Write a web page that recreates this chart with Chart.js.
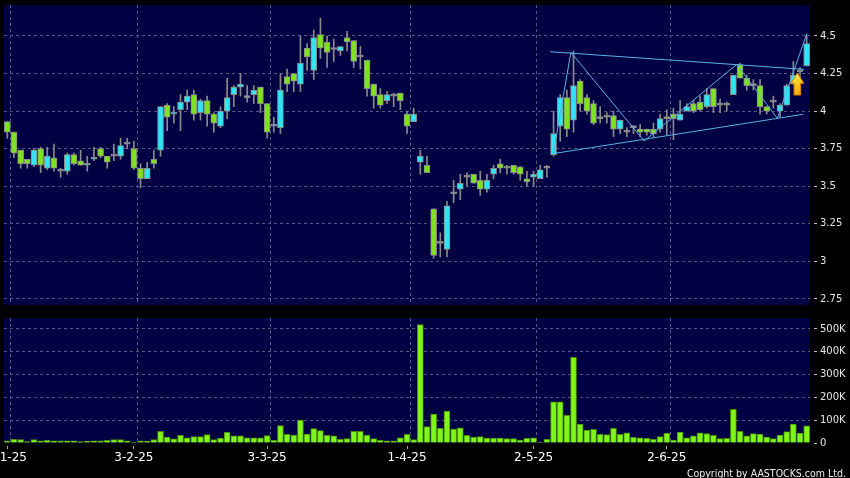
<!DOCTYPE html>
<html>
<head>
<meta charset="utf-8">
<script src="https://cdn.jsdelivr.net/npm/chart.js@4.4.1/dist/chart.umd.min.js"></script>
<style>
  html, body { margin: 0; padding: 0; background: #000; }
  #wrap { position: relative; width: 850px; height: 478px; overflow: hidden; }
  .box { position: absolute; left: 0; width: 850px; }
  #copy { position: absolute; right: 4px; top: 467px; font-family: 'DejaVu Sans Condensed', 'DejaVu Sans', sans-serif; font-size: 10.5px; line-height: 12px; color: #eee; white-space: nowrap; }
</style>
</head>
<body>
<div id="wrap">
  <div class="box" style="top:0;height:312px"><canvas id="price"></canvas></div>
  <div class="box" style="top:312px;height:166px"><canvas id="vol"></canvas></div>
  <div id="copy">Copyright by AASTOCKS.com Ltd.</div>
</div>
<script>
// trading days, d-m-yy
const dates = [
  '2-1-25','3-1-25','6-1-25','7-1-25','8-1-25','9-1-25','10-1-25','13-1-25','14-1-25','15-1-25',
  '16-1-25','17-1-25','20-1-25','21-1-25','22-1-25','23-1-25','24-1-25','27-1-25','28-1-25',
  '3-2-25','4-2-25','5-2-25','6-2-25','7-2-25','10-2-25','11-2-25','12-2-25','13-2-25','14-2-25',
  '17-2-25','18-2-25','19-2-25','20-2-25','21-2-25','24-2-25','25-2-25','26-2-25','27-2-25','28-2-25',
  '3-3-25','4-3-25','5-3-25','6-3-25','7-3-25','10-3-25','11-3-25','12-3-25','13-3-25','14-3-25',
  '17-3-25','18-3-25','19-3-25','20-3-25','21-3-25','24-3-25','25-3-25','26-3-25','27-3-25','28-3-25','31-3-25',
  '1-4-25','2-4-25','3-4-25','7-4-25','8-4-25','9-4-25','10-4-25','11-4-25','14-4-25','15-4-25',
  '16-4-25','17-4-25','22-4-25','23-4-25','24-4-25','25-4-25','28-4-25','29-4-25','30-4-25',
  '2-5-25','6-5-25','7-5-25','8-5-25','9-5-25','12-5-25','13-5-25','14-5-25','15-5-25','16-5-25',
  '19-5-25','20-5-25','21-5-25','22-5-25','23-5-25','26-5-25','27-5-25','28-5-25','29-5-25','30-5-25',
  '2-6-25','3-6-25','4-6-25','5-6-25','6-6-25','9-6-25','10-6-25','11-6-25','12-6-25','13-6-25',
  '16-6-25','17-6-25','18-6-25','19-6-25','20-6-25','23-6-25','24-6-25','25-6-25','26-6-25','27-6-25','30-6-25',
  '2-7-25'
];

const opens = [
  3.93,3.86,3.74,3.68,3.64,3.75,3.62,3.69,3.60,3.60, 3.71,3.67,3.64,3.68,3.75,3.70,3.70,3.70,3.78,3.75,
  3.62,3.55,3.68,3.74,4.04,3.98,4.01,4.06,4.11,3.99, 4.07,3.98,3.90,4.00,4.11,4.16,4.09,4.11,4.16,4.05,
  3.90,3.89,4.23,4.25,4.18,4.42,4.27,4.51,4.46,4.41, 4.40,4.49,4.47,4.36,4.34,4.18,4.11,4.07,4.10,4.12,
  3.98,3.93,3.66,3.64,3.35,3.12,3.08,3.45,3.48,3.56, 3.58,3.54,3.48,3.58,3.65,3.62,3.64,3.63,3.55,3.56,
  3.55,3.62,3.71,3.90,4.09,3.94,4.20,4.09,4.05,3.95, 3.96,3.97,3.88,3.86,3.89,3.88,3.88,3.88,3.88,3.95,
  3.98,3.94,4.00,4.05,4.06,4.03,4.15,4.04,4.04,4.11, 4.31,4.22,4.17,4.17,4.03,4.06,4.00,4.04,4.18,4.26,
  4.30
];
const highs = [
  3.93,3.86,3.74,3.68,3.75,3.76,3.76,3.78,3.62,3.72, 3.72,3.74,3.70,3.76,3.76,3.70,3.78,3.82,3.82,3.80,
  3.65,3.66,3.74,4.03,4.05,4.03,4.11,4.14,4.14,4.08, 4.10,3.99,4.03,4.22,4.17,4.25,4.17,4.17,4.16,4.05,
  3.96,4.25,4.28,4.25,4.50,4.45,4.54,4.62,4.50,4.48, 4.43,4.53,4.47,4.43,4.34,4.18,4.15,4.13,4.12,4.12,
  4.00,4.02,3.74,3.70,3.35,3.19,3.40,3.54,3.58,3.59, 3.58,3.60,3.58,3.64,3.68,3.64,3.64,3.63,3.60,3.60,
  3.64,3.64,4.00,4.11,4.14,4.40,4.21,4.11,4.07,4.03, 3.99,4.00,3.94,3.89,3.90,3.91,3.88,3.92,3.98,4.01,
  4.02,4.07,4.05,4.07,4.10,4.15,4.15,4.08,4.06,4.24, 4.32,4.24,4.21,4.21,4.03,4.10,4.05,4.18,4.33,4.29,
  4.51
];
const lows = [
  3.82,3.69,3.62,3.62,3.63,3.59,3.61,3.60,3.56,3.58, 3.64,3.64,3.60,3.67,3.69,3.62,3.67,3.68,3.75,3.61,
  3.49,3.55,3.62,3.70,3.87,3.92,3.87,4.01,3.94,3.94, 3.90,3.86,3.89,3.95,4.03,4.10,4.06,4.05,3.99,3.82,
  3.86,3.85,4.13,4.13,4.13,4.27,4.21,4.35,4.29,4.33, 4.37,4.40,4.29,4.28,4.10,4.02,4.02,4.05,4.03,4.01,
  3.85,3.93,3.58,3.59,3.02,3.03,3.03,3.39,3.41,3.50, 3.52,3.44,3.46,3.55,3.59,3.58,3.58,3.54,3.50,3.50,
  3.55,3.56,3.70,3.80,3.83,3.86,4.00,3.98,3.91,3.92, 3.92,3.83,3.85,3.83,3.85,3.83,3.84,3.83,3.86,3.84,
  3.81,3.94,4.00,3.99,4.00,4.02,3.99,3.99,4.00,4.11, 4.22,4.14,4.14,3.98,3.98,4.02,3.96,4.04,4.18,4.22,
  4.30
];
const closes = [
  3.86,3.72,3.65,3.65,3.74,3.64,3.70,3.62,3.60,3.71, 3.65,3.64,3.65,3.69,3.70,3.66,3.70,3.77,3.78,3.62,
  3.55,3.62,3.65,4.03,3.96,3.99,4.06,4.10,3.98,4.07, 3.98,3.92,4.00,4.09,4.16,4.18,4.09,4.14,4.05,3.86,
  3.90,4.14,4.18,4.20,4.32,4.36,4.49,4.42,4.39,4.41, 4.43,4.46,4.33,4.36,4.15,4.10,4.04,4.11,4.10,4.07,
  3.90,3.98,3.70,3.59,3.04,3.12,3.37,3.45,3.52,3.56, 3.52,3.48,3.54,3.62,3.62,3.62,3.59,3.58,3.53,3.58,
  3.61,3.62,3.85,4.09,3.88,4.17,4.05,4.00,3.92,3.95, 3.96,3.88,3.94,3.86,3.89,3.86,3.86,3.85,3.95,3.95,
  3.95,3.98,4.03,4.00,4.01,4.11,4.03,4.04,4.04,4.24, 4.22,4.17,4.17,4.03,4.00,4.06,4.04,4.17,4.24,4.26,
  4.45
];
// volume, thousands of shares
const volumes = [
  9,16,15,6,15,9,12,10,9,10, 10,6,7,10,9,12,15,15,10,4,
  9,7,15,51,26,18,34,23,28,28, 37,15,22,47,31,31,23,23,23,32,
  12,76,38,35,101,39,63,54,34,31, 16,19,51,51,35,19,12,10,9,23,
  38,15,519,72,127,64,140,61,66,34, 26,28,22,22,22,19,19,13,20,23,
  4,16,180,180,121,376,83,57,60,38, 37,64,38,45,25,23,20,16,28,44,
  13,48,23,31,45,41,34,19,20,148, 51,31,41,39,26,19,35,50,83,44,
  75
];

const priceTicks = [2.75, 3, 3.25, 3.5, 3.75, 4, 4.25, 4.5];
const priceTickLabels = ['2.75', '3', '3.25', '3.5', '3.75', '4', '4.25', '4.5'];
const volTicks = [0, 100, 200, 300, 400, 500];
const volTickLabels = ['0', '100K', '200K', '300K', '400K', '500K'];
const monthStarts = [0, 19, 39, 60, 79, 99];
const monthGrid = [0.5, 19.5, 39.5, 60.5, 79.5, 99.5];

// drawn trend lines (index, price)
const upperLine = [{x: 81.5, y: 4.395}, {x: 119.6, y: 4.278}];
const lowerLine = [{x: 82.2, y: 3.719}, {x: 119.5, y: 3.979}];
const zigzag = [
  {x: 81.97, y: 3.719}, {x: 84.6, y: 4.391}, {x: 95.6, y: 3.801},
  {x: 109.5, y: 4.311}, {x: 115.6, y: 3.952}, {x: 120.0, y: 4.513}
];
const arrowAt = {x: 118.6, top: 4.252, bottom: 4.107};

const NAVY = '#000042';
const GRID = '#58587f';
const UP = '#2fe4f4';
const DOWN = '#7ee21e';
const FLAT = '#9a9a9a';
const EDGE = '#8a8a8a';
const LINE = '#5ab2e4';

Chart.defaults.font.family = "'DejaVu Sans', sans-serif";
Chart.defaults.color = '#e6e6e6';

const panelBg = {
  id: 'panelBg',
  beforeDraw(chart) {
    const {ctx, chartArea: a} = chart;
    ctx.save();
    ctx.fillStyle = NAVY;
    ctx.fillRect(a.left, a.top, a.right - a.left, a.bottom - a.top);
    ctx.restore();
  }
};

// the yellow break-out arrow
const arrowMark = {
  id: 'arrowMark',
  afterDatasetsDraw(chart) {
    const {ctx, scales: {x, y}} = chart;
    const cx = x.getPixelForValue(arrowAt.x);
    const top = y.getPixelForValue(arrowAt.top);
    const bot = y.getPixelForValue(arrowAt.bottom);
    const neck = top + (bot - top) * 0.46;
    const hw = 6.5, sw = 3.3;
    ctx.save();
    const g = ctx.createLinearGradient(cx - hw, top, cx + hw, bot);
    g.addColorStop(0, '#fff07a');
    g.addColorStop(0.5, '#ffc81a');
    g.addColorStop(1, '#f29a00');
    ctx.beginPath();
    ctx.moveTo(cx, top);
    ctx.lineTo(cx + hw, neck);
    ctx.lineTo(cx + sw, neck);
    ctx.lineTo(cx + sw, bot);
    ctx.lineTo(cx - sw, bot);
    ctx.lineTo(cx - sw, neck);
    ctx.lineTo(cx - hw, neck);
    ctx.closePath();
    ctx.fillStyle = g;
    ctx.fill();
    ctx.strokeStyle = '#d98200';
    ctx.lineWidth = 1;
    ctx.stroke();
    ctx.restore();
  }
};

// no extra room for edge labels, the panels keep fixed edges
const noPad = s => { s.paddingLeft = 0; s.paddingRight = 0; s.paddingTop = 0; s.paddingBottom = 0; };

const gridAxis = (ticks) => ({
  type: 'linear', position: 'bottom', min: -0.5, max: 120.5, offset: false,
  afterBuildTicks: s => { s.ticks = ticks.map(v => ({value: v})); },
  ticks: {display: false},
  grid: {color: GRID, drawTicks: false, offset: false},
  border: {display: false, dash: [3, 3]},
  afterFit: s => { s.height = 0; noPad(s); }
});

const bodyColors = opens.map((o, i) => closes[i] > o ? UP : (closes[i] < o ? DOWN : FLAT));

new Chart(document.getElementById('price'), {
  type: 'bar',
  data: {
    datasets: [
      {type: 'line', data: upperLine, borderColor: LINE, borderWidth: 1, pointRadius: 0, order: 0},
      {type: 'line', data: lowerLine, borderColor: LINE, borderWidth: 1, pointRadius: 0, order: 0},
      {type: 'line', data: zigzag, borderColor: LINE, borderWidth: 1, pointRadius: 0, order: 0},
      {
        data: opens.map((o, i) => ({x: i, y: [o, closes[i]]})),
        backgroundColor: bodyColors, borderColor: EDGE, borderWidth: 1,
        borderSkipped: false, barThickness: 6, minBarLength: 2, grouped: false, order: 1
      },
      {
        data: lows.map((l, i) => ({x: i, y: [l, highs[i]]})),
        backgroundColor: EDGE, borderWidth: 0, barThickness: 1, grouped: false, order: 2
      }
    ]
  },
  options: {
    responsive: true, maintainAspectRatio: false, animation: false, events: [],
    layout: {autoPadding: false, padding: {left: 4, top: 5, right: 0, bottom: 7}},
    plugins: {legend: {display: false}, tooltip: {enabled: false}},
    scales: {
      x: gridAxis(monthGrid),
      y: {
        position: 'right', min: 2.71, max: 4.706,
        afterBuildTicks: s => { s.ticks = priceTicks.map(v => ({value: v})); },
        ticks: {callback: (v, i) => priceTickLabels[i], font: {size: 10}, color: '#e6e6e6', padding: 3},
        grid: {color: GRID, tickColor: '#bdbdbd', tickLength: 7, tickBorderDash: [0, 4, 3, 20]},
        border: {display: false, dash: [3, 3]},
        afterFit: s => { s.width = 40; noPad(s); }
      }
    }
  },
  plugins: [panelBg, arrowMark]
});

new Chart(document.getElementById('vol'), {
  type: 'bar',
  data: {
    datasets: [{
      data: volumes.map((v, i) => ({x: i, y: v})),
      backgroundColor: '#7ff51a', borderColor: '#4a9000', borderWidth: 1,
      barThickness: 6, xAxisID: 'x', yAxisID: 'y'
    }]
  },
  options: {
    responsive: true, maintainAspectRatio: false, animation: false, events: [],
    layout: {autoPadding: false, padding: {left: 4, top: 6, right: 0, bottom: 0}},
    plugins: {legend: {display: false}, tooltip: {enabled: false}},
    scales: {
      xg: gridAxis(monthGrid),
      x: {
        type: 'linear', position: 'bottom', min: -0.5, max: 120.5, offset: false,
        afterBuildTicks: s => { s.ticks = monthStarts.map(v => ({value: v})); },
        ticks: {callback: v => dates[v], font: {size: 12}, color: '#ffffff', padding: 2, maxRotation: 0, autoSkip: false},
        grid: {drawOnChartArea: false, offset: false, tickLength: 6, tickColor: '#aaaaaa', tickBorderDash: [0, 3, 3, 20]},
        border: {display: false},
        afterFit: s => { s.height = 35; noPad(s); }
      },
      y: {
        position: 'right', min: 0, max: 548,
        afterBuildTicks: s => { s.ticks = volTicks.map(v => ({value: v})); },
        ticks: {callback: (v, i) => volTickLabels[i], font: {size: 10}, color: '#e6e6e6', padding: 3},
        grid: {
          color: c => (c.tick && c.tick.value === 0) ? 'rgba(0,0,0,0)' : GRID,
          tickColor: '#bdbdbd', tickLength: 7, tickBorderDash: [0, 4, 3, 20]
        },
        border: {display: false, dash: [3, 3]},
        afterFit: s => { s.width = 40; noPad(s); }
      }
    }
  },
  plugins: [panelBg]
});
</script>
</body>
</html>
